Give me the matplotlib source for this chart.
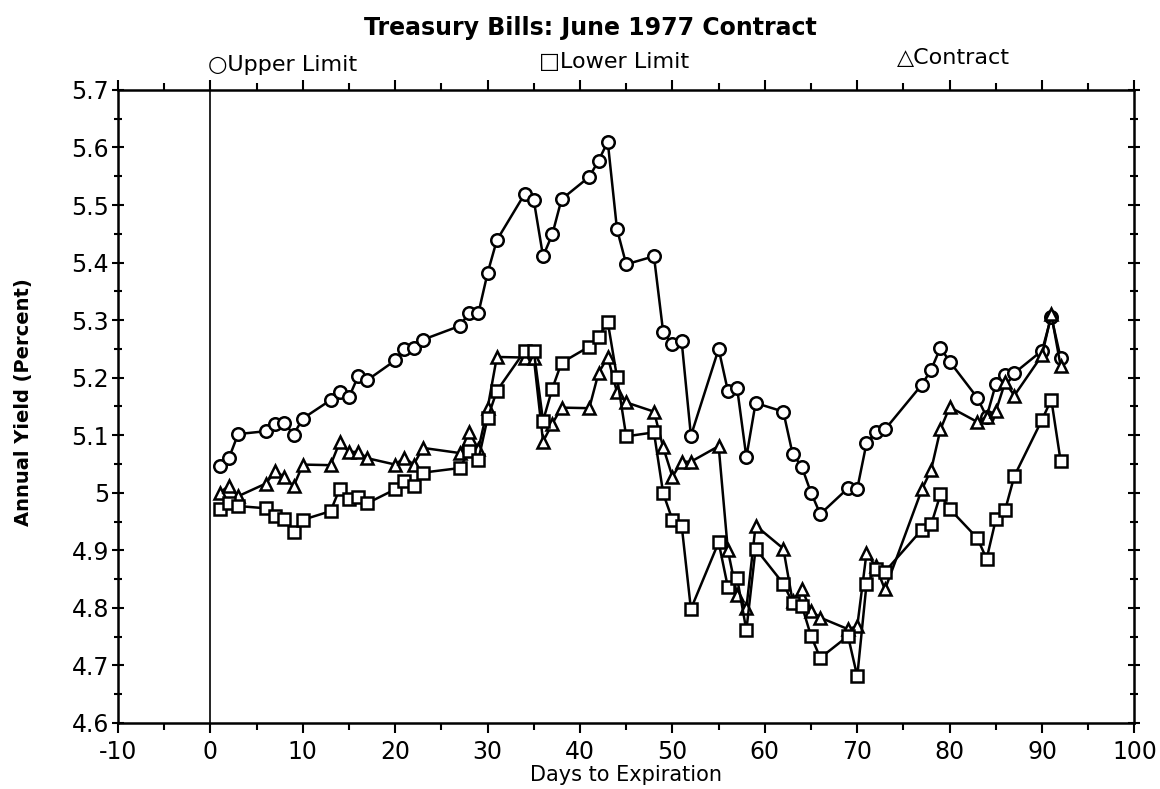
import numpy as np
import matplotlib
matplotlib.use("Agg")
import matplotlib.pyplot as plt
from matplotlib.ticker import MultipleLocator

# days to expiration (trading days, same for all three series)
days = [1, 2, 3, 6, 7, 8, 9, 10, 13, 14, 15, 16, 17, 20, 21, 22, 23,
        27, 28, 29, 30, 31, 34, 35, 36, 37, 38, 41, 42, 43, 44, 45,
        48, 49, 50, 51, 52, 55, 56, 57, 58, 59, 62, 63, 64, 65, 66,
        69, 70, 71, 72, 73, 77, 78, 79, 80, 83, 84, 85, 86, 87, 90, 91, 92]

upper = [5.046, 5.060, 5.102, 5.107, 5.119, 5.122, 5.101, 5.129, 5.161, 5.175,
         5.166, 5.203, 5.196, 5.230, 5.249, 5.252, 5.266, 5.290, 5.313, 5.312,
         5.382, 5.439, 5.519, 5.508, 5.411, 5.449, 5.510, 5.549, 5.577, 5.610,
         5.458, 5.397, 5.411, 5.279, 5.258, 5.263, 5.099, 5.250, 5.177, 5.182,
         5.062, 5.156, 5.141, 5.068, 5.045, 5.000, 4.963, 5.008, 5.007, 5.086,
         5.105, 5.110, 5.188, 5.214, 5.252, 5.228, 5.165, 5.132, 5.189, 5.204,
         5.208, 5.247, 5.306, 5.235]

lower = [4.972, 4.982, 4.977, 4.973, 4.959, 4.955, 4.932, 4.953, 4.968, 5.007,
         4.989, 4.992, 4.982, 5.006, 5.021, 5.012, 5.035, 5.043, 5.073, 5.057,
         5.130, 5.177, 5.246, 5.246, 5.125, 5.181, 5.226, 5.254, 5.271, 5.297,
         5.201, 5.098, 5.105, 4.999, 4.953, 4.943, 4.798, 4.914, 4.836, 4.852,
         4.761, 4.903, 4.842, 4.809, 4.804, 4.751, 4.713, 4.751, 4.681, 4.841,
         4.867, 4.863, 4.936, 4.945, 4.997, 4.972, 4.921, 4.885, 4.954, 4.970,
         5.029, 5.127, 5.162, 5.056]

contract = [5.000, 5.012, 4.994, 5.016, 5.037, 5.028, 5.011, 5.049, 5.048, 5.088,
            5.071, 5.071, 5.060, 5.049, 5.061, 5.049, 5.078, 5.069, 5.106, 5.076,
            5.147, 5.236, 5.235, 5.235, 5.089, 5.120, 5.148, 5.147, 5.208, 5.236,
            5.175, 5.157, 5.141, 5.079, 5.028, 5.054, 5.054, 5.081, 4.900, 4.822,
            4.799, 4.943, 4.903, 4.812, 4.833, 4.795, 4.783, 4.763, 4.768, 4.895,
            4.872, 4.832, 5.006, 5.040, 5.110, 5.149, 5.123, 5.132, 5.142, 5.192,
            5.169, 5.239, 5.310, 5.221]

plt.rcParams['font.family'] = ['DejaVu Sans']
plt.rcParams['axes.unicode_minus'] = False

fig = plt.figure(figsize=(11.6, 7.89), dpi=100)
ax = fig.add_axes([0.1017, 0.0837, 0.8763, 0.8023])

style = dict(color='black', lw=1.8, mfc='white', mec='black', mew=1.8)
ax.plot(days, upper, marker='o', ms=9, **style)
ax.plot(days, contract, marker='^', ms=8, **style)
ax.plot(days, lower, marker='s', ms=8.5, **style)

ax.axvline(0, color='black', lw=1.2)

ax.set_xlim(-10, 100)
ax.set_ylim(4.6, 5.7)
ax.xaxis.set_major_locator(MultipleLocator(10))
ax.xaxis.set_minor_locator(MultipleLocator(5))
ax.yaxis.set_major_locator(MultipleLocator(0.1))
ax.yaxis.set_minor_locator(MultipleLocator(0.05))
yt = np.round(np.arange(4.6, 5.71, 0.1), 1)
ax.set_yticks(yt)
ax.set_yticklabels(["5" if v == 5.0 else f"{v:.1f}" for v in yt])

for s in ax.spines.values():
    s.set_linewidth(1.8)
ax.tick_params(axis='x', which='both', direction='out', top=True, width=1.5, labelsize=17, pad=5)
ax.tick_params(axis='x', which='major', length=7)
ax.tick_params(axis='x', which='minor', length=5)
ax.tick_params(axis='y', which='both', direction='inout', right=True, width=1.5, labelsize=17, pad=2)
ax.tick_params(axis='y', which='major', length=9)
ax.tick_params(axis='y', which='minor', length=6)

ax.set_xlabel("Days to Expiration", fontsize=15, labelpad=1)
fig.text(0.02, 0.49, "Annual Yield (Percent)", rotation=90, fontsize=14,
         fontweight='bold', ha='center', va='center')

fig.text(0.509, 0.965, "Treasury Bills: June 1977 Contract", fontsize=17,
         fontweight='bold', ha='center', va='center')
fig.text(0.179, 0.917, "\u25cbUpper Limit", fontsize=16, ha='left', va='center')
fig.text(0.465, 0.921, "\u25a1Lower Limit", fontsize=16, ha='left', va='center')
fig.text(0.773, 0.927, "\u25b3Contract", fontsize=16, ha='left', va='center')

fig.savefig("out.png", dpi=100)
